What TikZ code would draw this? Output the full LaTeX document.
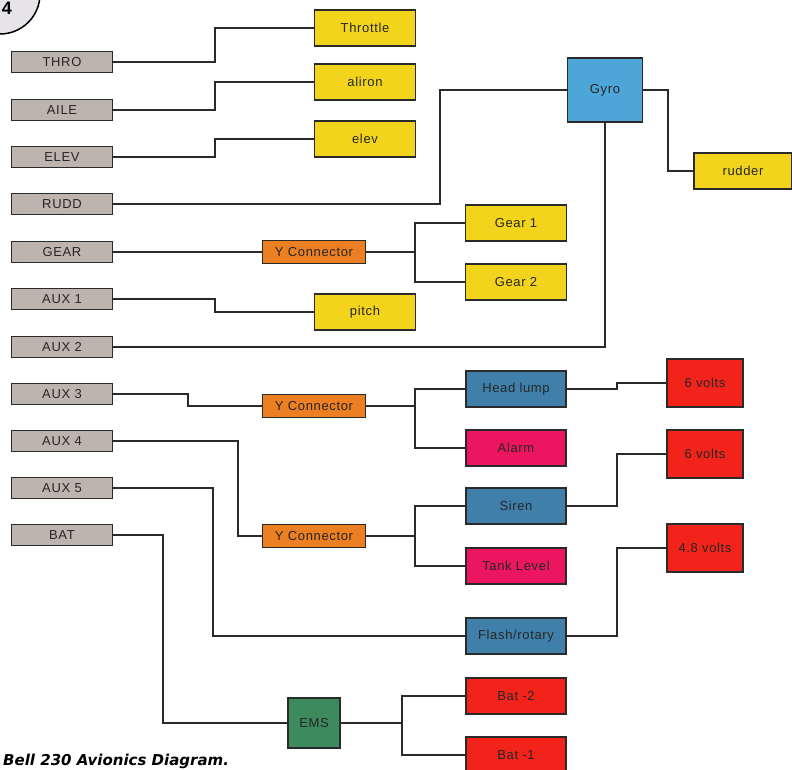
\documentclass[tikz,border=0pt]{standalone}
\usepackage{fontspec}
\setmainfont{Liberation Sans}[LetterSpace=5]
\newfontfamily\capfont{DejaVu Sans}
\definecolor{boxgray}{HTML}{BDB4AE}
\definecolor{boxyellow}{HTML}{F2D41C}
\definecolor{boxorange}{HTML}{EC7F22}
\definecolor{boxlblue}{HTML}{4DA5D8}
\definecolor{boxdblue}{HTML}{3F7FAA}
\definecolor{boxpink}{HTML}{EC1660}
\definecolor{boxred}{HTML}{F2231A}
\definecolor{boxgreen}{HTML}{3C8A5E}
\definecolor{linecol}{HTML}{2A2A2A}
\definecolor{badgefill}{HTML}{E6E4E8}
\begin{document}
\begin{tikzpicture}[x=1pt,y=-1pt,
  base/.style={draw=linecol,line width=1.3pt,inner sep=0pt,font=\fontsize{13}{15}\selectfont,text=black!85},
  src/.style={base,fill=boxgray,minimum width=101pt,minimum height=21pt},
  yel/.style={base,fill=boxyellow,minimum width=101pt,minimum height=36pt},
  ycon/.style={base,fill=boxorange,minimum width=103pt,minimum height=23pt},
  outbox/.style={base,minimum width=100pt,minimum height=36pt},
  volt/.style={base,fill=boxred,minimum width=76pt,minimum height=48pt},
  wire/.style={draw=linecol,line width=1.3pt}]
\useasboundingbox (0,0) rectangle (792,770);
\begin{scope}
\clip (0,0) rectangle (792,770);
% badge
\draw[line width=1.5pt,fill=badgefill] (0,-6) circle (40);
\node[font=\fontsize{18}{18}\bfseries\selectfont,inner sep=0pt,anchor=center] (badge) at (7,8) {4};
% sources
\node[src] (thro) at (62,62) {THRO};
\node[src] (aile) at (62,110) {AILE};
\node[src] (elev) at (62,157) {ELEV};
\node[src] (rudd) at (62,204) {RUDD};
\node[src] (gear) at (62,252) {GEAR};
\node[src] (aux1) at (62,299) {AUX 1};
\node[src] (aux2) at (62,347) {AUX 2};
\node[src] (aux3) at (62,394) {AUX 3};
\node[src] (aux4) at (62,441) {AUX 4};
\node[src] (aux5) at (62,488) {AUX 5};
\node[src] (bat) at (62,535) {BAT};
% yellow
\node[yel] (throttle) at (365,28) {Throttle};
\node[yel] (aliron) at (365,82) {aliron};
\node[yel] (elevb) at (365,139) {elev};
\node[yel] (pitch) at (365,312) {pitch};
\node[yel] (gear1) at (516,223) {Gear 1};
\node[yel] (gear2) at (516,282) {Gear 2};
\node[yel,minimum width=98pt] (rudder) at (743,171) {rudder};
% gyro
\node[base,fill=boxlblue,minimum width=75pt,minimum height=64pt] (gyro) at (605,90) {Gyro};
% Y connectors
\node[ycon] (y1) at (314,252) {Y Connector};
\node[ycon] (y2) at (314,406) {Y Connector};
\node[ycon] (y3) at (314,536) {Y Connector};
% outputs
\node[outbox,fill=boxdblue] (head) at (516,389) {Head lump};
\node[outbox,fill=boxpink] (alarm) at (516,448) {Alarm};
\node[outbox,fill=boxdblue] (siren) at (516,506) {Siren};
\node[outbox,fill=boxpink] (tank) at (516,566) {Tank Level};
\node[outbox,fill=boxdblue] (flash) at (516,636) {Flash/rotary};
\node[outbox,fill=boxred] (bat2) at (516,696) {Bat -2};
\node[outbox,fill=boxred] (bat1) at (516,755) {Bat -1};
\node[volt] (v1) at (705,383) {6 volts};
\node[volt] (v2) at (705,454) {6 volts};
\node[volt] (v3) at (705,548) {4.8 volts};
\node[base,fill=boxgreen,minimum width=52pt,minimum height=50pt] (ems) at (314,723) {EMS};
% wires
\draw[wire] (thro.east) -| (215,45) |- (throttle.west);
\draw[wire] (aile.east) -| (215,96) |- (aliron.west);
\draw[wire] (elev.east) -| (215,150) |- (elevb.west);
\draw[wire] (aux1.east) -| (215,305) |- (pitch.west);
\draw[wire] (rudd.east) -| (440,150) |- (gyro.west);
\draw[wire] (aux2.east) -| (gyro.south);
\draw[wire] (gyro.east) -| (668,130) |- (rudder.west);
\draw[wire] (gear.east) -- (y1.west);
\draw[wire] (y1.east) -- (415,252);
\draw[wire] (gear1.west) -| (415,252) |- (gear2.west);
\draw[wire] (aux3.east) -| (188,400) |- (y2.west);
\draw[wire] (y2.east) -- (415,406);
\draw[wire] (head.west) -| (415,406) |- (alarm.west);
\draw[wire] (aux4.east) -| (238,490) |- (y3.west);
\draw[wire] (y3.east) -- (415,536);
\draw[wire] (siren.west) -| (415,536) |- (tank.west);
\draw[wire] (aux5.east) -| (213,560) |- (flash.west);
\draw[wire] (bat.east) -| (163,630) |- (ems.west);
\draw[wire] (ems.east) -- (402,723);
\draw[wire] (bat2.west) -| (402,723) |- (bat1.west);
\draw[wire] (head.east) -| (617,386) |- (v1.west);
\draw[wire] (siren.east) -| (617,480) |- (v2.west);
\draw[wire] (flash.east) -| (617,590) |- (v3.west);
% caption
\node[anchor=base west,inner sep=0pt,font=\capfont\fontsize{15}{17}\bfseries\itshape\selectfont] (cap) at (3,765) {Bell 230 Avionics Diagram.};
\end{scope}
\end{tikzpicture}
\end{document}
